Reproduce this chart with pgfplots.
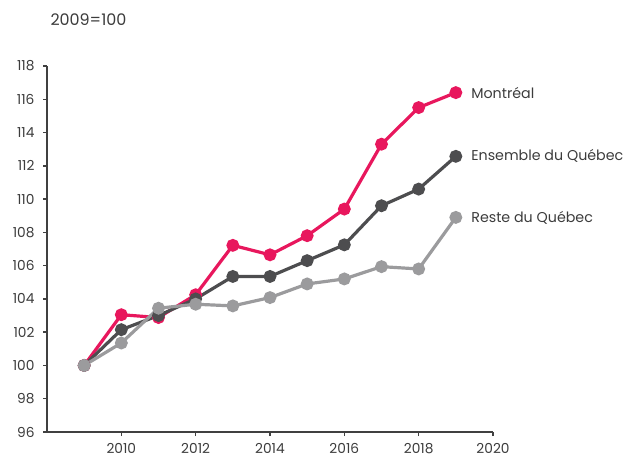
\documentclass[border=0pt]{standalone}
\usepackage{pgfplots}
\pgfplotsset{compat=1.18}
\usepackage{fontspec}
\setmainfont{Poppins}
\usetikzlibrary{calc}
\definecolor{mtl}{HTML}{E8175D}
\definecolor{ens}{HTML}{4D4D4F}
\definecolor{rest}{HTML}{9B9B9D}
\definecolor{axc}{HTML}{404040}
\definecolor{txt}{HTML}{3C3C3C}
\begin{document}
\begin{tikzpicture}
\begin{axis}[scale only axis, width=446bp, height=366bp,
 xmin=2008, xmax=2020, ymin=96, ymax=118,
 xtick={2010,2012,...,2020}, ytick={96,98,...,118},
 axis lines=left, axis line style={-, line width=2.5bp, color=axc},
 tick style={line width=1.5bp, color=axc}, major tick length=4bp,
 tick align=outside,
 /pgf/number format/assume math mode=true,
 x tick label style={/pgf/number format/1000 sep={}, yshift=-4bp},
 y tick label style={xshift=-5bp},
 ticklabel style={font=\fontsize{13.8}{15}\selectfont, text=txt},
 every axis plot/.append style={line width=3.2bp, mark=*, mark size=4.8bp},
 clip=false]
\addplot[color=mtl] coordinates {(2009,100) (2010,103.05) (2011,102.88) (2012,104.25) (2013,107.22) (2014,106.65) (2015,107.8) (2016,109.4) (2017,113.3) (2018,115.5) (2019,116.4)};
\addplot[color=ens] coordinates {(2009,100) (2010,102.15) (2011,103.0) (2012,104.0) (2013,105.35) (2014,105.35) (2015,106.3) (2016,107.25) (2017,109.6) (2018,110.6) (2019,112.57)};
\addplot[color=rest] coordinates {(2009,100) (2010,101.35) (2011,103.44) (2012,103.68) (2013,103.58) (2014,104.08) (2015,104.9) (2016,105.2) (2017,105.94) (2018,105.8) (2019,108.9)};
\node[anchor=west, text=txt, font=\fontsize{14.3}{16}\selectfont, xshift=12bp] at (axis cs:2019,116.4) {Montréal};
\node[anchor=west, text=txt, font=\fontsize{14.3}{16}\selectfont, xshift=12bp] at (axis cs:2019,112.57) {Ensemble du Québec};
\node[anchor=west, text=txt, font=\fontsize{14.3}{16}\selectfont, xshift=12bp] at (axis cs:2019,108.9) {Reste du Québec};
\node[anchor=west, text=txt, font=\fontsize{16}{18}\selectfont, xshift=0bp, yshift=46bp] at (rel axis cs:0,1) {2009=100};
\coordinate (sw) at (rel axis cs:0,0);
\coordinate (ne) at (rel axis cs:1,1);
\end{axis}
\pgfresetboundingbox
\path[use as bounding box] ($(sw)+(-47bp,-25bp)$) rectangle ($(ne)+(130bp,66bp)$);
\end{tikzpicture}
\end{document}
